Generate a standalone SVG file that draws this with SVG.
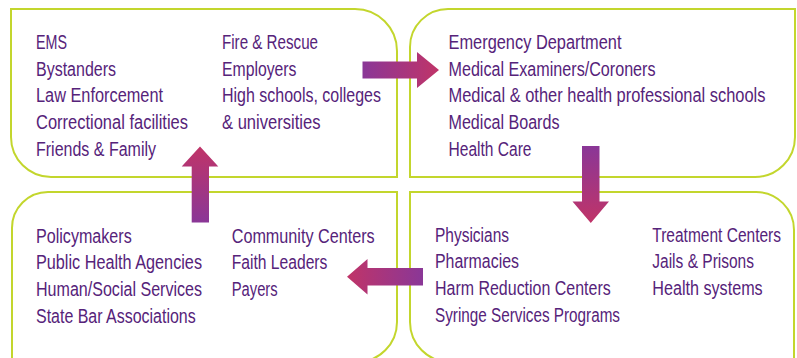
<svg xmlns="http://www.w3.org/2000/svg" width="797" height="358" viewBox="0 0 797 358">
<defs>
<style>
.box{fill:#ffffff;stroke:#c3d62d;stroke-width:2}
.t{font-family:"Liberation Sans",Arial,sans-serif;font-size:19.5px;fill:#56237a}
</style>
<linearGradient id="gR" x1="0" y1="0" x2="1" y2="0"><stop offset="0" stop-color="#8a3797"/><stop offset="1" stop-color="#c03468"/></linearGradient>
<linearGradient id="gD" x1="0" y1="0" x2="0" y2="1"><stop offset="0" stop-color="#8a3797"/><stop offset="1" stop-color="#c03468"/></linearGradient>
<linearGradient id="gL" x1="1" y1="0" x2="0" y2="0"><stop offset="0" stop-color="#8a3797"/><stop offset="1" stop-color="#c03468"/></linearGradient>
<linearGradient id="gU" x1="0" y1="1" x2="0" y2="0"><stop offset="0" stop-color="#8a3797"/><stop offset="1" stop-color="#c03468"/></linearGradient>
</defs>
<rect width="797" height="358" fill="#ffffff"/>

<g id="node-tl">
<path class="box" d="M11,9 H355 A42,42 0 0 1 397,51 V177 H51 A40,40 0 0 1 11,137 Z"/>
<text class="t" x="36" y="49" textLength="31" lengthAdjust="spacingAndGlyphs">EMS</text>
<text class="t" x="36" y="75.7" textLength="80" lengthAdjust="spacingAndGlyphs">Bystanders</text>
<text class="t" x="36" y="102.3" textLength="127" lengthAdjust="spacingAndGlyphs">Law Enforcement</text>
<text class="t" x="36" y="129" textLength="152" lengthAdjust="spacingAndGlyphs">Correctional facilities</text>
<text class="t" x="36" y="155.7" textLength="120" lengthAdjust="spacingAndGlyphs">Friends &amp; Family</text>
<text class="t" x="222" y="49" textLength="96" lengthAdjust="spacingAndGlyphs">Fire &amp; Rescue</text>
<text class="t" x="222" y="75.7" textLength="74.5" lengthAdjust="spacingAndGlyphs">Employers</text>
<text class="t" x="222" y="102.3" textLength="159" lengthAdjust="spacingAndGlyphs">High schools, colleges</text>
<text class="t" x="222" y="129" textLength="98.5" lengthAdjust="spacingAndGlyphs">&amp; universities</text>
</g>

<g id="node-tr">
<path class="box" d="M448,9 H795 V137 A40,40 0 0 1 755,177 H410 V47 A38,38 0 0 1 448,9 Z"/>
<text class="t" x="448.5" y="49" textLength="173" lengthAdjust="spacingAndGlyphs">Emergency Department</text>
<text class="t" x="448.5" y="75.7" textLength="207" lengthAdjust="spacingAndGlyphs">Medical Examiners/Coroners</text>
<text class="t" x="448.5" y="102.3" textLength="317" lengthAdjust="spacingAndGlyphs">Medical &amp; other health professional schools</text>
<text class="t" x="448.5" y="129" textLength="111" lengthAdjust="spacingAndGlyphs">Medical Boards</text>
<text class="t" x="448.5" y="155.7" textLength="83" lengthAdjust="spacingAndGlyphs">Health Care</text>
</g>

<g id="node-bl">
<path class="box" d="M48,192 H397 V322 A40,40 0 0 1 357,362 H12 V228 A36,36 0 0 1 48,192 Z"/>
<text class="t" x="36" y="242.7" textLength="95.7" lengthAdjust="spacingAndGlyphs">Policymakers</text>
<text class="t" x="36" y="269.3" textLength="166" lengthAdjust="spacingAndGlyphs">Public Health Agencies</text>
<text class="t" x="36" y="296" textLength="166" lengthAdjust="spacingAndGlyphs">Human/Social Services</text>
<text class="t" x="36" y="322.7" textLength="159.7" lengthAdjust="spacingAndGlyphs">State Bar Associations</text>
<text class="t" x="231.7" y="242.7" textLength="143" lengthAdjust="spacingAndGlyphs">Community Centers</text>
<text class="t" x="231.7" y="269.3" textLength="95.7" lengthAdjust="spacingAndGlyphs">Faith Leaders</text>
<text class="t" x="231.7" y="296" textLength="46" lengthAdjust="spacingAndGlyphs">Payers</text>
</g>

<g id="node-br">
<path class="box" d="M410,192 H756 A38,38 0 0 1 794,230 V362 H450 A40,40 0 0 1 410,322 Z"/>
<text class="t" x="435" y="241.7" textLength="74" lengthAdjust="spacingAndGlyphs">Physicians</text>
<text class="t" x="435" y="268.3" textLength="84" lengthAdjust="spacingAndGlyphs">Pharmacies</text>
<text class="t" x="435" y="295" textLength="175.7" lengthAdjust="spacingAndGlyphs">Harm Reduction Centers</text>
<text class="t" x="435" y="321.7" textLength="185" lengthAdjust="spacingAndGlyphs">Syringe Services Programs</text>
<text class="t" x="652.3" y="241.7" textLength="128.7" lengthAdjust="spacingAndGlyphs">Treatment Centers</text>
<text class="t" x="652.3" y="268.3" textLength="101.7" lengthAdjust="spacingAndGlyphs">Jails &amp; Prisons</text>
<text class="t" x="652.3" y="295" textLength="110.4" lengthAdjust="spacingAndGlyphs">Health systems</text>
</g>

<g id="connectors">
<path fill="url(#gR)" d="M362.5,61.5 H417 V52 L439,70 L417,88 V78.5 H362.5 Z"/>
<path fill="url(#gD)" d="M582,146 H599.5 V201.5 H609 L590.8,223 L572.5,201.5 H582 Z"/>
<path fill="url(#gL)" d="M423,268 V285.5 H367.5 V294.5 L347,276.8 L367.5,259 V268 Z"/>
<path fill="url(#gU)" d="M191.7,222.5 V166.5 H181.7 L200,146.5 L218.3,166.5 H209 V222.5 Z"/>
</g>
</svg>
